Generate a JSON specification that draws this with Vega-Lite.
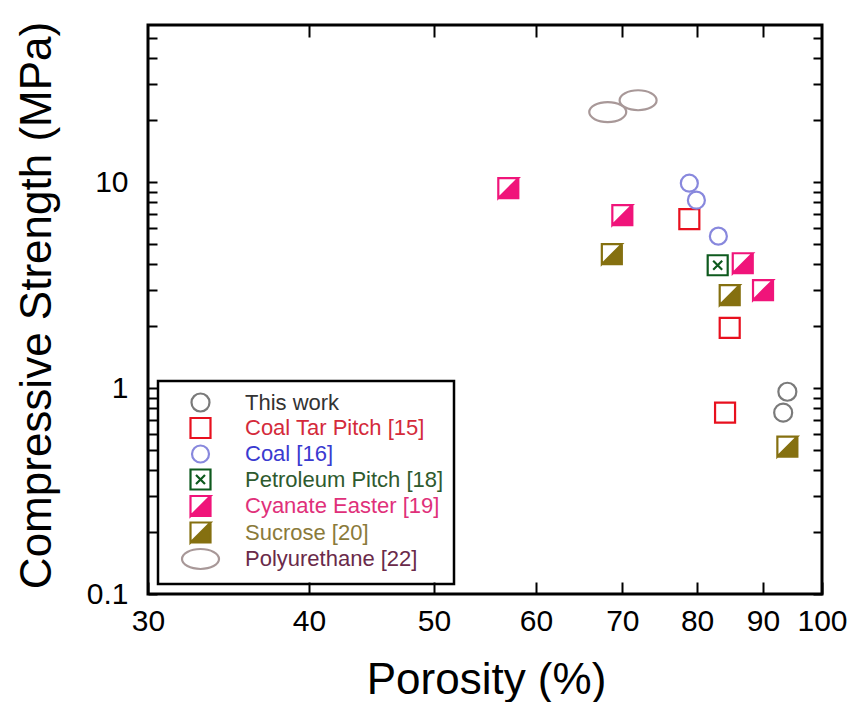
{
  "$schema": "https://vega.github.io/schema/vega-lite/v6.json",
  "width": 674,
  "height": 569,
  "autosize": {"type": "none"},
  "padding": {"left": 148, "top": 25, "right": 33, "bottom": 108},
  "background": "white",
  "config": {
    "view": {"stroke": "black", "strokeWidth": 3},
    "font": "Liberation Sans",
    "axis": {"grid": false, "domain": false, "labelColor": "black", "titleColor": "black", "tickColor": "black", "tickWidth": 2, "labelOverlap": false, "labelFlush": false},
    "legend": {
      "orient": "none", "legendX": 10, "legendY": 356,
      "strokeColor": "black", "strokeWidth": 2.5, "padding": 10,
      "symbolSize": 400, "symbolStrokeWidth": 2.2, "symbolOffset": 21,
      "labelFont": "Liberation Sans", "labelFontSize": 22, "labelLimit": 400,
      "rowPadding": -2.5, "labelOffset": 33
    }
  },
  "data": {
    "values": [
      {"Series": "This work", "Porosity": 94.0, "Strength": 0.96},
      {"Series": "This work", "Porosity": 93.3, "Strength": 0.76},
      {"Series": "Coal Tar Pitch [15]", "Porosity": 78.9, "Strength": 6.61},
      {"Series": "Coal Tar Pitch [15]", "Porosity": 84.8, "Strength": 1.96},
      {"Series": "Coal Tar Pitch [15]", "Porosity": 84.1, "Strength": 0.76},
      {"Series": "Coal [16]", "Porosity": 78.9, "Strength": 9.89},
      {"Series": "Coal [16]", "Porosity": 79.9, "Strength": 8.18},
      {"Series": "Coal [16]", "Porosity": 83.1, "Strength": 5.47},
      {"Series": "Petroleum Pitch [18]", "Porosity": 83.0, "Strength": 3.95},
      {"Series": "Cyanate Easter [19]", "Porosity": 57.1, "Strength": 9.35},
      {"Series": "Cyanate Easter [19]", "Porosity": 70.0, "Strength": 6.92},
      {"Series": "Cyanate Easter [19]", "Porosity": 86.8, "Strength": 4.04},
      {"Series": "Cyanate Easter [19]", "Porosity": 90.0, "Strength": 2.99},
      {"Series": "Sucrose [20]", "Porosity": 68.7, "Strength": 4.47},
      {"Series": "Sucrose [20]", "Porosity": 84.8, "Strength": 2.83},
      {"Series": "Sucrose [20]", "Porosity": 94.0, "Strength": 0.52},
      {"Series": "Polyurethane [22]", "Porosity": 68.2, "Strength": 21.9},
      {"Series": "Polyurethane [22]", "Porosity": 72.0, "Strength": 25.0}
    ]
  },
  "layer": [
    {
      "mark": {"type": "point", "strokeWidth": 2.2, "size": 400, "opacity": 1},
      "encoding": {
        "x": {
          "field": "Porosity", "type": "quantitative",
          "scale": {"type": "log", "domain": [30, 100], "nice": false},
          "axis": {
            "orient": "bottom",
            "values": [30, 40, 50, 60, 70, 80, 90, 100],
            "labelExpr": "'' + datum.value",
            "labelFont": "Liberation Sans", "labelFontSize": 30,
            "tickSize": -12, "labelPadding": 24,
            "title": "Porosity (%)",
            "titleFont": "Liberation Sans", "titleFontSize": 44, "titleFontWeight": "normal",
            "titleX": 338, "titleY": 99, "titleBaseline": "alphabetic", "titleAlign": "center"
          }
        },
        "y": {
          "field": "Strength", "type": "quantitative",
          "scale": {"type": "log", "domain": [0.1, 58], "nice": false},
          "axis": {
            "orient": "left",
            "values": [0.1, 0.2, 0.3, 0.4, 0.5, 0.6, 0.7, 0.8, 0.9, 1, 2, 3, 4, 5, 6, 7, 8, 9, 10, 20, 30, 40, 50],
            "labelExpr": "datum.value == 0.1 ? '0.1' : datum.value == 1 ? '1' : datum.value == 10 ? '10' : ''",
            "labelFont": "Liberation Sans", "labelFontSize": 30,
            "tickSize": -9, "labelPadding": 29,
            "title": "Compressive Strength (MPa)",
            "titleFont": "Liberation Sans", "titleFontSize": 44, "titleFontWeight": "normal",
            "titleX": -98, "titleY": 280, "titleBaseline": "alphabetic", "titleAlign": "center", "titleAngle": -90
          }
        },
        "shape": {
          "field": "Series", "type": "nominal",
          "scale": {
            "domain": ["This work", "Coal Tar Pitch [15]", "Coal [16]", "Petroleum Pitch [18]", "Cyanate Easter [19]", "Sucrose [20]", "Polyurethane [22]"],
            "range": [
              "M-0.9,0A0.9,0.9 0 1,0 0.9,0A0.9,0.9 0 1,0 -0.9,0Z",
              "M-1,-1H1V1H-1Z",
              "M-0.85,0A0.85,0.85 0 1,0 0.85,0A0.85,0.85 0 1,0 -0.85,0Z",
              "M-1,-1H1V1H-1Z M-0.45,-0.45L0.45,0.45 M0.45,-0.45L-0.45,0.45",
              "M-1,-1L1,-1L1,1L-1,1Z M-1,-1L-1,1L1,-1Z",
              "M-1,-1L1,-1L1,1L-1,1Z M-1,-1L-1,1L1,-1Z",
              "M-1.85,0A1.85,1 0 1,0 1.85,0A1.85,1 0 1,0 -1.85,0Z"
            ]
          },
          "legend": {
            "title": null,
            "labelColor": {"expr": "datum.value === 'This work' ? '#333333' : datum.value === 'Coal Tar Pitch [15]' ? '#d42a3a' : datum.value === 'Coal [16]' ? '#3a3ad0' : datum.value === 'Petroleum Pitch [18]' ? '#2e5a2e' : datum.value === 'Cyanate Easter [19]' ? '#e0307a' : datum.value === 'Sucrose [20]' ? '#8a7a3a' : '#6a2a4a'"}
          }
        },
        "stroke": {
          "field": "Series", "type": "nominal",
          "scale": {
            "domain": ["This work", "Coal Tar Pitch [15]", "Coal [16]", "Petroleum Pitch [18]", "Cyanate Easter [19]", "Sucrose [20]", "Polyurethane [22]"],
            "range": ["#7a7a7a", "#e8101e", "#8888dd", "#0e5a1e", "#f0147a", "#857010", "#a89898"]
          },
          "legend": {
            "title": null,
            "labelColor": {"expr": "datum.value === 'This work' ? '#333333' : datum.value === 'Coal Tar Pitch [15]' ? '#d42a3a' : datum.value === 'Coal [16]' ? '#3a3ad0' : datum.value === 'Petroleum Pitch [18]' ? '#2e5a2e' : datum.value === 'Cyanate Easter [19]' ? '#e0307a' : datum.value === 'Sucrose [20]' ? '#8a7a3a' : '#6a2a4a'"}
          }
        },
        "fill": {
          "field": "Series", "type": "nominal",
          "scale": {
            "domain": ["This work", "Coal Tar Pitch [15]", "Coal [16]", "Petroleum Pitch [18]", "Cyanate Easter [19]", "Sucrose [20]", "Polyurethane [22]"],
            "range": ["transparent", "transparent", "transparent", "transparent", "#f0147a", "#857010", "transparent"]
          },
          "legend": {
            "title": null,
            "labelColor": {"expr": "datum.value === 'This work' ? '#333333' : datum.value === 'Coal Tar Pitch [15]' ? '#d42a3a' : datum.value === 'Coal [16]' ? '#3a3ad0' : datum.value === 'Petroleum Pitch [18]' ? '#2e5a2e' : datum.value === 'Cyanate Easter [19]' ? '#e0307a' : datum.value === 'Sucrose [20]' ? '#8a7a3a' : '#6a2a4a'"}
          }
        }
      }
    },
    {
      "mark": {"type": "point", "opacity": 0},
      "encoding": {
        "x": {
          "field": "Porosity", "type": "quantitative",
          "scale": {"type": "log", "domain": [30, 100], "nice": false},
          "axis": {
            "orient": "top", "values": [40, 50, 60, 70, 80, 90], "labels": false, "title": null,
            "tickSize": -12
          }
        },
        "y": {
          "field": "Strength", "type": "quantitative",
          "scale": {"type": "log", "domain": [0.1, 58], "nice": false},
          "axis": {
            "orient": "right",
            "values": [0.1, 0.2, 0.3, 0.4, 0.5, 0.6, 0.7, 0.8, 0.9, 1, 2, 3, 4, 5, 6, 7, 8, 9, 10, 20, 30, 40, 50],
            "labels": false, "title": null, "tickSize": -9
          }
        }
      }
    }
  ],
  "resolve": {"axis": {"x": "independent", "y": "independent"}}
}
